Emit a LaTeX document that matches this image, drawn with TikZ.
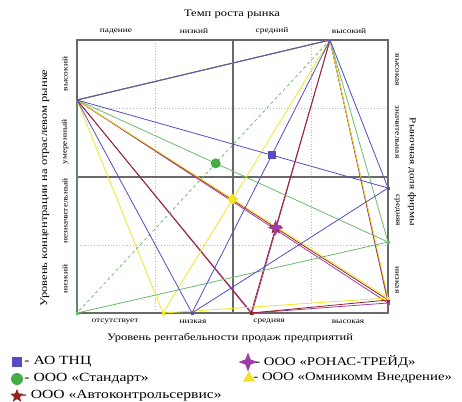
\documentclass[tikz,border=0pt]{standalone}
\usepackage{fontspec}
\setmainfont[FakeStretch=1.25]{Liberation Serif}
\usetikzlibrary{shapes.geometric,positioning,calc}

\definecolor{cblue}{RGB}{85,75,195}
\definecolor{cgreen}{RGB}{70,170,70}
\definecolor{cyellow}{RGB}{240,228,40}
\definecolor{cred}{RGB}{150,35,35}
\definecolor{cviolet}{RGB}{155,60,170}
\definecolor{gridgray}{RGB}{105,105,105}

\begin{document}
\begin{tikzpicture}[
    x=1pt, y=-1pt,
    % --- line styles ---
    frame/.style   = {draw=gridgray, line width=1.3pt},
    dotline/.style = {draw=gray!55, dotted, line width=0.8pt},
    firm/.style    = {line width=0.8pt},
    % --- text styles ---
    lvl/.style      = {font=\fontsize{7.5}{9}\selectfont, inner sep=0pt},
    axtitle/.style  = {font=\fontsize{10}{12}\selectfont, inner sep=0pt},
    legtext/.style  = {font=\fontsize{12.5}{14}\selectfont, anchor=west, inner sep=0pt},
    legtextr/.style = {legtext, font=\fontsize{11.8}{14}\selectfont},
    % --- markers ---
    sqmark/.style   = {rectangle, fill=cblue, minimum size=8pt, inner sep=0pt},
    dotmark/.style  = {circle, fill=cgreen, minimum size=10pt, inner sep=0pt},
    dmdmark/.style  = {diamond, fill=cyellow, minimum size=11pt, inner sep=0pt},
    trimark/.style  = {regular polygon, regular polygon sides=3, fill=cyellow,
                       minimum size=14pt, inner sep=0pt},
    starmark/.style = {star, star points=5, star point ratio=2.2, fill=cred,
                       minimum size=14pt, inner sep=0pt},
    crossmark/.style= {star, star points=4, star point ratio=2.6, fill=cviolet,
                       minimum size=16pt, inner sep=0pt},
    tickmark/.style = {rectangle, minimum size=3pt, inner sep=0pt},
]

\useasboundingbox (0,0) rectangle (462,401);

%============ GRID ============
\draw[dotline] (155,40) -- (155,313) (311,40) -- (311,313)
               (77,108) -- (388,108) (77,245) -- (388,245);
\draw[frame] (233,40) -- (233,313) (77,177) -- (388,177);
\draw[frame] (77,40) rectangle (388,313);

%============ AXIS POINTS ============
\coordinate (L) at (77,100);
\coordinate (T) at (330,40);
\coordinate (Rb) at (388,188);  \coordinate (Bb) at (192,313);
\coordinate (Rg) at (388,242);  \coordinate (Bg) at (77,313);
\coordinate (Ry) at (388,298);  \coordinate (By) at (163,313);
\coordinate (Rr) at (388,300);  \coordinate (Br) at (251,313);
\coordinate (Rv) at (388,303);  \coordinate (Bv) at (252,313);

%============ FIRM POLYGONS ============
\foreach \f/\c/\d in {v/cviolet/solid, r/cred/solid, y/cyellow/solid,
                      g/cgreen!80/dashed, b/cblue/solid} {
  \draw[firm, \c] (L) -- (T) -- (R\f) -- (B\f) -- cycle;
  \draw[firm, \c] (L) -- (R\f);
  \draw[firm, \c, \d] (T) -- (B\f);
  \node[tickmark, fill=\c] at (R\f) {};
  \node[tickmark, fill=\c] at (B\f) {};
}

%============ FIRM MARKERS ============
\node[sqmark]    (mb) at (intersection of L--Rb and T--Bb) {};
\node[dotmark]   (mg) at (intersection of L--Rg and T--Bg) {};
\node[dmdmark]   (my) at (intersection of L--Ry and T--By) {};
\node[starmark]  (mr) at (intersection of L--Rr and T--Br) {};
\node[crossmark] (mv) at (mr) {};

%============ AXIS LABELS ============
\node[axtitle] (toptitle) at (232,14) {Темп роста рынка};
\foreach \x/\t in {116/падение, 194/низкий, 272/средний, 349/высокий}
  \node[lvl] at (\x,31) {\t};

\foreach \x/\t in {115/отсутствует, 193/низкая, 269/средняя, 348/высокая}
  \node[lvl] at (\x,322) {\t};
\node[axtitle] (bottitle) at (230,338) {Уровень рентабельности продаж предприятий};

\foreach \y/\t in {74/высокий, 142/умеренный, 211/незначительный, 279/низкий}
  \node[lvl, rotate=90] at (65,\y) {\t};
\node[axtitle, rotate=90] (lefttitle) at (45,188) {Уровень концентрации на отраслевом рынке};

\foreach \y/\t in {70/высокая, 132/значительная, 210/средняя, 280/низкая}
  \node[lvl, rotate=-90] at (397,\y) {\t};
\node[axtitle, font=\fontsize{9}{11}\selectfont, rotate=-90] (righttitle)
  at (412,172) {Рыночная доля фирмы};

%============ LEGEND ============
\node[sqmark, minimum size=10pt] (lb) at (17,362) {};
\node[legtext, right=2pt of lb] {- АО ТНЦ};
\node[dotmark, minimum size=12pt] (lg) at (17,379) {};
\node[legtext, right=1pt of lg] {- ООО «Стандарт»};
\node[starmark] (lr) at (17,396) {};
\node[legtext, right=0pt of lr] {- ООО «Автоконтрольсервис»};

\node[crossmark, minimum size=19pt] (lv) at (248,362) {};
\node[legtextr, right=-3pt of lv] {- ООО «РОНАС-ТРЕЙД»};
\node[trimark] (ly) at (249,378) {};
\node[legtextr, right=0pt of ly] {- ООО «Омникомм Внедрение»};

\end{tikzpicture}
\end{document}
